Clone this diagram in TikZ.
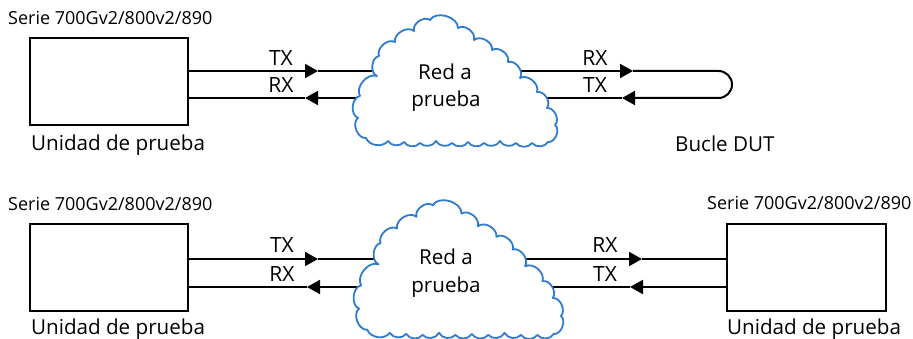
\documentclass[tikz,border=0pt]{standalone}
\usepackage{fontspec}
\setmainfont{Open Sans}
\usetikzlibrary{arrows.meta}
\definecolor{cloudblue}{RGB}{46,123,207}
\tikzset{
  box/.style={draw, line width=2pt, minimum width=158pt, minimum height=87pt, inner sep=0pt},
  conn/.style={line width=2pt},
  arr/.style={-{Triangle[length=13pt,width=14pt]}},
  lbl/.style={inner sep=0pt, font=\fontsize{18}{21}\selectfont},
  sig/.style={inner sep=0pt, anchor=base, font=\fontsize{21}{24}\selectfont},
  big/.style={inner sep=0pt, font=\fontsize{20.6}{23}\selectfont},
  cloudpic/.pic={
    \draw[cloudblue, line width=1.8pt, fill=white, line join=round]
      (-91,58) to[bend left=75] (-99,38) to[bend left=75] (-97,16)
      to[bend left=70] (-80,-4) to[bend left=75] (-78,-24)
      to[bend left=70] (-62,-38) to[bend left=70] (-43,-49)
      to[bend left=70] (-27,-60) to[bend left=75] (1,-52)
      to[bend left=70] (17,-40) to[bend left=70] (35,-30)
      to[bend left=70] (51,-18) to[bend left=70] (63,-2)
      to[bend left=70] (80,12) to[bend left=70] (90,28)
      to[bend left=70] (98,45) to[bend left=75] (91,62)
      to[bend left=55] (75,63) to[bend left=55] (59,63)
      to[bend left=55] (43,61) to[bend left=55] (27,63)
      to[bend left=55] (11,62) to[bend left=55] (-5,63)
      to[bend left=55] (-21,61) to[bend left=55] (-37,63)
      to[bend left=55] (-53,62) to[bend left=55] (-69,61)
      to[bend left=60] (-91,58) -- cycle;
  }
}
\begin{document}
\begin{tikzpicture}[x=1pt, y=-1pt]
\useasboundingbox (0,0) rectangle (913,339);

% ---------- top row ----------
\node[lbl, anchor=base west] (s1) at (8,25) {Serie 700Gv2/800v2/890};
\node[box] (b1) at (109,82) {};
\node[big, anchor=base west] (u1) at (31,151) {Unidad de prueba};

\coordinate (t1) at (318,71);
\coordinate (r1) at (305,98);
\coordinate (c1a) at (390,71);
\coordinate (c1b) at (370,98);
\coordinate (c1c) at (510,71);
\coordinate (c1d) at (530,98);
\coordinate (t1r) at (633,71);
\coordinate (r1r) at (622,98);
\coordinate (lpa) at (732,71);
\coordinate (lpb) at (732,98);

\draw[conn, arr] (b1.east |- t1) -- (t1);
\draw[conn] (t1) -- (c1a);
\draw[conn, arr] (c1b) -- (r1);
\draw[conn] (r1) -- (b1.east |- r1);
\draw[conn, arr] (c1c) -- (t1r);
\draw[conn, arr, rounded corners=13.5pt] (t1r) -- (lpa) -- (lpb) -- (r1r);
\draw[conn] (r1r) -- (c1d);

\pic at (457,80) {cloudpic};
\node[big, anchor=base] (n1a) at (445,80) {Red a};
\node[big, anchor=base] (n1b) at (446,107) {prueba};

\node[sig] (tx1) at (281,66) {TX};
\node[sig] (rx1) at (281,93) {RX};
\node[sig] (rx1r) at (595,66) {RX};
\node[sig] (tx1r) at (595,93) {TX};
\node[big, anchor=base west] (dut) at (675,152) {Bucle DUT};

% ---------- bottom row ----------
\node[lbl, anchor=base west] (s2) at (8,211) {Serie 700Gv2/800v2/890};
\node[box] (b2) at (109,267.5) {};
\node[big, anchor=base west] (u2) at (31,334) {Unidad de prueba};

\node[lbl, anchor=base west] (s3) at (707,210) {Serie 700Gv2/800v2/890};
\node[box, minimum width=159pt] (b3) at (806.5,267.5) {};
\node[big, anchor=base west] (u3) at (727,334) {Unidad de prueba};

\coordinate (t2) at (318,259);
\coordinate (r2) at (307,287);
\coordinate (c2a) at (392,259);
\coordinate (c2b) at (372,287);
\coordinate (c2c) at (515,259);
\coordinate (c2d) at (538,287);
\coordinate (t2r) at (642,259);
\coordinate (r2r) at (630,287);

\draw[conn, arr] (b2.east |- t2) -- (t2);
\draw[conn] (t2) -- (c2a);
\draw[conn, arr] (c2b) -- (r2);
\draw[conn] (r2) -- (b2.east |- r2);
\draw[conn, arr] (c2c) -- (t2r);
\draw[conn] (t2r) -- (b3.west |- t2r);
\draw[conn, arr] (b3.west |- r2r) -- (r2r);
\draw[conn] (r2r) -- (c2d);

\pic[xscale=1.025, yscale=1.055] at (460.5,268.5) {cloudpic};
\node[big, anchor=base] (n2a) at (446,265) {Red a};
\node[big, anchor=base] (n2b) at (446,292) {prueba};

\node[sig] (tx2) at (282,253) {TX};
\node[sig] (rx2) at (282,281) {RX};
\node[sig] (rx2r) at (605,253) {RX};
\node[sig] (tx2r) at (605,281) {TX};
\end{tikzpicture}
\end{document}
